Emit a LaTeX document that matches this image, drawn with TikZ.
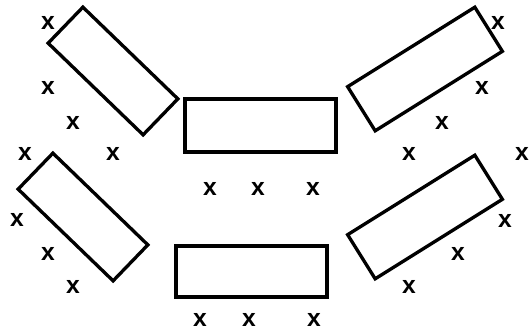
\documentclass[tikz,border=0pt]{standalone}
\usepackage{fontspec}
\setmainfont{Liberation Sans}
\begin{document}
\begin{tikzpicture}[x=0.75pt,y=-0.75pt,
  box/.style={draw=black,line width=2.5pt,inner sep=0pt,outer sep=0pt,fill=white},
  xm/.style={inner sep=0pt,font=\fontsize{18.5}{18.5}\selectfont\bfseries}]
\useasboundingbox (0,0) rectangle (530,332);
% boxes
\node[box,minimum width=99pt,minimum height=37.5pt,rotate=-44] (tl) at (113,71) {};
\node[box,minimum width=99pt,minimum height=37.5pt,rotate=-44] (bl) at (83,217) {};
\node[box,minimum width=112.5pt,minimum height=39pt,rotate=32] (tr) at (425,69) {};
\node[box,minimum width=112.5pt,minimum height=39pt,rotate=32] (br) at (425,217) {};
\node[box,minimum width=113.25pt,minimum height=39.75pt] (tc) at (260.5,125.5) {};
\node[box,minimum width=113.25pt,minimum height=38.25pt] (bc) at (251.5,271.5) {};
% x marks
\foreach \n/\p in {a1/{(48,23)},a2/{(48,88)},a3/{(73,123)},a4/{(25,154)},a5/{(113,154)},
  b1/{(498,23)},b2/{(482,88)},b3/{(442,123)},b4/{(409,154)},b5/{(522,154)},
  c1/{(210,189)},c2/{(258,189)},c3/{(313,189)},
  d1/{(17,220)},d2/{(48,254)},d3/{(73,287)},
  e1/{(505,221)},e2/{(458,254)},e3/{(409,287)},
  f1/{(200,320)},f2/{(249,320)},f3/{(314,320)}}
  \node[xm] (\n) at \p {x};
\end{tikzpicture}
\end{document}
